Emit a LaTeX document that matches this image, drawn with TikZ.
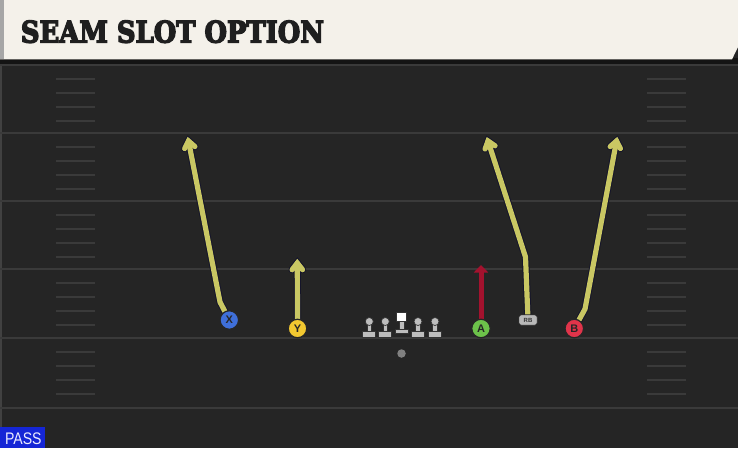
\documentclass[tikz,border=0pt]{standalone}
\usepackage{fontspec}
\usetikzlibrary{calc,arrows.meta}
\newfontfamily\titlefont{DejaVu Serif Bold}[FakeBold=5]
\newfontfamily\labelfont{Liberation Sans}
\definecolor{field}{HTML}{252525}
\definecolor{yard}{HTML}{3A3A3A}
\definecolor{hdr}{HTML}{F4F1EA}
\definecolor{hdrshade}{HTML}{141414}
\definecolor{route}{HTML}{C9C763}
\definecolor{routeedge}{HTML}{15152A}
\definecolor{redroute}{HTML}{A3122E}
\definecolor{pblue}{HTML}{3F6FD9}
\definecolor{pyellow}{HTML}{F2C830}
\definecolor{pgreen}{HTML}{6CC24A}
\definecolor{pred}{HTML}{E0344A}
\definecolor{olgray}{HTML}{BDBDBD}
\definecolor{passblue}{HTML}{1526D6}
\pgfdeclarelayer{bg}
\pgfdeclarelayer{routes}
\pgfsetlayers{bg,routes,main}
\tikzset{
  yardline/.style={draw=yard, line width=2pt},
  hashmark/.style={draw=yard, line width=1.5pt},
  routeout/.style={draw=routeedge, line width=7.2pt, line join=round, line cap=round},
  routein/.style={draw=route, line width=5.2pt, line join=round, line cap=round},
  tipjoin/.style={line join=miter},
  player/.style={circle, minimum size=18.5pt, inner sep=0pt, draw=black!85, line width=1.2pt,
    font=\labelfont\bfseries\fontsize{11}{11}\selectfont, text=black!85},
  lineman/.style={fill=olgray, draw=black!80, line width=0.7pt},
}
\begin{document}
\begin{tikzpicture}[x=1pt,y=-1pt]
\useasboundingbox (0,0) rectangle (738,448);
\begin{pgfonlayer}{bg}
  % field
  \fill[field] (0,0) rectangle (738,448);
  \fill[black!15!field!85!white] (0,60) rectangle (2,448);
  % yard lines
  \foreach \yy in {65,133,201,269,338,408}
    \draw[yardline] (0,\yy) -- (738,\yy);
  % hash marks
  \foreach \yy in {65,133,201,269,338}
    \foreach \k in {1,2,3,4} {
      \draw[hashmark] (56,\yy+\k*14) -- (95,\yy+\k*14);
      \draw[hashmark] (647,\yy+\k*14) -- (686,\yy+\k*14);
    }
  % header
  \fill[hdrshade] (0,58) rectangle (738,63.5);
  \fill[hdr] (0,0) -- (738,0) -- (738,47) -- (732,59.3) -- (0,59.3) -- cycle;
  \fill[black!35] (0,0) rectangle (4,59.3);
\end{pgfonlayer}

% title
\node[anchor=west, inner sep=0pt, text=black!88] (title) at (20.7,31.7)
  {\resizebox{303pt}{22pt}{\titlefont SEAM SLOT OPTION}};

% players
\node[player, fill=pblue] (X) at (229.3,320) {X};
\node[player, fill=pyellow] (Y) at (297.5,328.5) {Y};
\node[player, fill=pgreen] (A) at (481,328.5) {A};
\node[player, fill=pred] (B) at (574.3,328.5) {B};
\node[rounded corners=2.5pt, fill=black!28, draw=black!85, line width=0.9pt,
      minimum width=18.5pt, minimum height=10.5pt, inner sep=0pt,
      font=\labelfont\bfseries\fontsize{6}{6}\selectfont, text=black!80] (RB) at (528,320) {RB};
\node[circle, fill=black!50, minimum size=8.5pt, inner sep=0pt] (QB) at (401.5,353.5) {};

% offensive line
\foreach \xx/\nm in {369.3/ol1,385.3/ol2,418/ol4,435/ol5} {
  \fill[lineman] (\xx-2.3,322) rectangle (\xx+2.3,332.5);
  \fill[lineman] (\xx-6.5,331.8) rectangle (\xx+6.5,337);
  \node[circle, fill=olgray, draw=black!80, line width=0.7pt, minimum size=8pt, inner sep=0pt] (\nm) at (\xx,321.5) {};
}
\fill[lineman] (399.4,320.5) rectangle (403.9,329.5);
\fill[lineman] (395,329.3) rectangle (408.3,333.8);
\node[rectangle, fill=white, draw=black!80, line width=0.7pt, minimum width=10pt, minimum height=8.5pt, inner sep=0pt] (ol3) at (401.7,317) {};

% route coordinates
\coordinate (xb) at (220,302);
\coordinate (xt) at (188.5,141);
\coordinate (yt) at (297.3,263);
\coordinate (at) at (481,265);
\coordinate (rbb) at (525.5,257);
\coordinate (rbt) at (488,141);
\coordinate (bb) at (585,309);
\coordinate (bt) at (616.5,141);

\begin{pgfonlayer}{routes}
  % outlines
  \draw[routeout] (X) -- (xb) -- (xt);
  \draw[routeout, tipjoin] ($(xt)!8.5pt!38:(xb)$) -- (xt) -- ($(xt)!8.5pt!-38:(xb)$);
  \draw[routeout] (Y) -- (yt);
  \draw[routeout, tipjoin] ($(yt)!8.5pt!38:(Y)$) -- (yt) -- ($(yt)!8.5pt!-38:(Y)$);
  \draw[routeout] (RB) -- (rbb) -- (rbt);
  \draw[routeout, tipjoin] ($(rbt)!8.5pt!38:(rbb)$) -- (rbt) -- ($(rbt)!8.5pt!-38:(rbb)$);
  \draw[routeout] (B) -- (bb) -- (bt);
  \draw[routeout, tipjoin] ($(bt)!8.5pt!38:(bb)$) -- (bt) -- ($(bt)!8.5pt!-38:(bb)$);
  % fills
  \draw[routein] (X) -- (xb) -- (xt);
  \draw[routein, tipjoin] ($(xt)!8.5pt!38:(xb)$) -- (xt) -- ($(xt)!8.5pt!-38:(xb)$);
  \draw[routein] (Y) -- (yt);
  \draw[routein, tipjoin] ($(yt)!8.5pt!38:(Y)$) -- (yt) -- ($(yt)!8.5pt!-38:(Y)$);
  \draw[routein] (RB) -- (rbb) -- (rbt);
  \draw[routein, tipjoin] ($(rbt)!8.5pt!38:(rbb)$) -- (rbt) -- ($(rbt)!8.5pt!-38:(rbb)$);
  \draw[routein] (B) -- (bb) -- (bt);
  \draw[routein, tipjoin] ($(bt)!8.5pt!38:(bb)$) -- (bt) -- ($(bt)!8.5pt!-38:(bb)$);
  % red route
  \draw[redroute, line width=5pt, -{Triangle[length=7.5pt,width=14pt]}] (A) -- (at);
\end{pgfonlayer}

% PASS tag
\node[fill=passblue, anchor=south west, minimum width=45pt, minimum height=20.5pt, inner sep=0pt] (pass) at (0,448) {};
\node[inner sep=0pt, text=white!92!blue] (passtext) at (23.3,439.2)
  {\resizebox{36.5pt}{11.7pt}{\labelfont PASS}};
\end{tikzpicture}
\end{document}
